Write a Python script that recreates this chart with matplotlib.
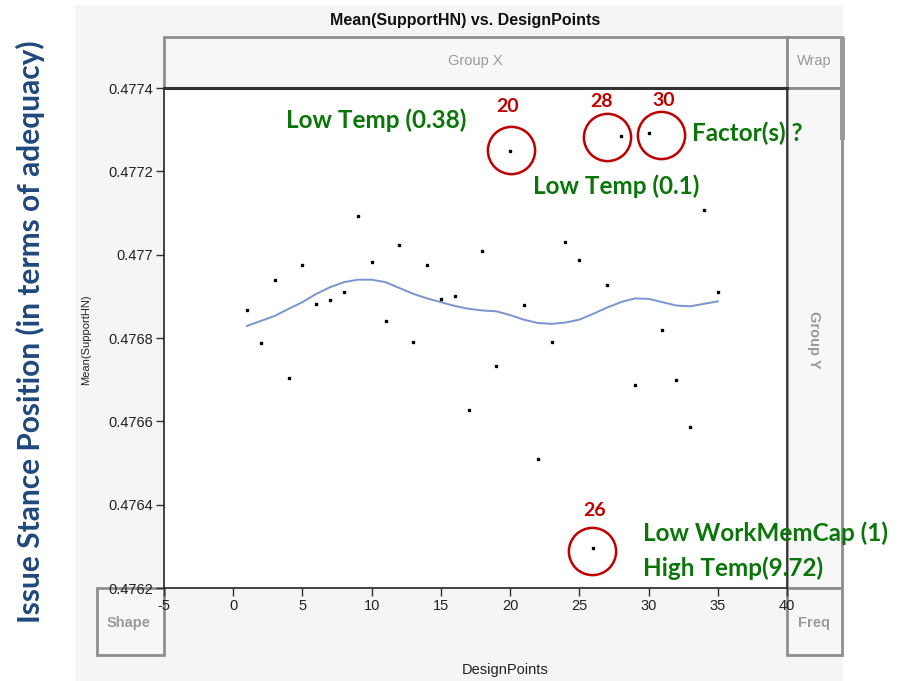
import matplotlib
matplotlib.use("Agg")
import matplotlib.pyplot as plt
from matplotlib.patches import Rectangle
from matplotlib.transforms import offset_copy

# ---------------- data ----------------
design_points = list(range(1, 36))
mean_support = [0.476867, 0.476788, 0.476939, 0.476704, 0.476975, 0.476882, 0.476891,
                0.476910, 0.477093, 0.476982, 0.476841, 0.477023, 0.476790, 0.476975,
                0.476894, 0.476901, 0.476627, 0.477009, 0.476733, 0.477249, 0.476879,
                0.476510, 0.476790, 0.477030, 0.476987, 0.476296, 0.476927, 0.477285,
                0.476687, 0.477292, 0.476819, 0.476700, 0.476586, 0.477107, 0.476910]
smooth_fit = [0.476829, 0.476841, 0.476853, 0.476870, 0.476886, 0.476906, 0.476922,
              0.476934, 0.476940, 0.476940, 0.476934, 0.476920, 0.476906, 0.476895,
              0.476886, 0.476877, 0.476870, 0.476866, 0.476864, 0.476855, 0.476844,
              0.476836, 0.476834, 0.476837, 0.476844, 0.476858, 0.476873, 0.476886,
              0.476895, 0.476894, 0.476886, 0.476878, 0.476876, 0.476882, 0.476888]
highlighted = [20, 28, 30, 26]
x_ticks = [-5, 0, 5, 10, 15, 20, 25, 30, 35, 40]
y_ticks = [0.4762, 0.4764, 0.4766, 0.4768, 0.4770, 0.4772, 0.4774]
y_tick_labels = ["0.4762", "0.4764", "0.4766", "0.4768", "0.477", "0.4772", "0.4774"]

W, H = 898, 681
fig = plt.figure(figsize=(W / 100, H / 100), dpi=100)
fig.patch.set_facecolor("white")

NARROW = ["Liberation Sans Narrow", "Liberation Sans", "DejaVu Sans"]
CAL = ["Lato", "DejaVu Sans"]


def fx(x):
    return x / W


def fy(y):
    return 1 - y / H


def prect(x0, y0, x1, y1, **kw):
    fig.patches.append(Rectangle((fx(x0), fy(y1)), (x1 - x0) / W, (y1 - y0) / H,
                                 transform=fig.transFigure, **kw))


# gray panel background
prect(75, 5, 843, 681, facecolor="#f5f5f5", edgecolor="none", zorder=0)
box = dict(facecolor="#f7f7f7", edgecolor="#8e8e8e", linewidth=2, zorder=1)
prect(164, 37, 787, 88, **box)
prect(787, 37, 842, 88, **box)
prect(787, 88, 842, 588, **box)
prect(97, 588, 164, 655, **box)
prect(787, 588, 842, 655, **box)
prect(840, 37, 845, 140, facecolor="#9a9a9a", edgecolor="none", zorder=1)

gray_txt = dict(color="#9a9a9a", fontsize=10.5, family=NARROW, ha="center", va="center")
fig.text(fx(475), fy(61), "Group X", **gray_txt)
fig.text(fx(814), fy(61), "Wrap", **gray_txt)
fig.text(fx(814), fy(340), "Group Y", rotation=-90, fontweight="bold", **gray_txt)
fig.text(fx(129), fy(623), "Shape", fontweight="bold", **gray_txt)
fig.text(fx(814), fy(623), "Freq", fontweight="bold", **gray_txt)

# titles and labels
fig.text(fx(465), fy(20), "Mean(SupportHN) vs. DesignPoints", ha="center", va="center",
         fontsize=11.5, fontweight="bold", family=NARROW, color="#111111")
fig.text(fx(505), fy(670), "DesignPoints", ha="center", va="center",
         fontsize=10.5, family=NARROW, color="#222222")
fig.text(fx(86), fy(340), "Mean(SupportHN)", ha="center", va="center", rotation=90,
         fontsize=8, family=NARROW, color="#222222")
fig.text(fx(30), fy(332), "Issue Stance Position (in terms of adequacy)", ha="center",
         va="center", rotation=90, fontsize=21.5, fontweight="bold", family=CAL,
         color="#1F497D")

# axes
ax = fig.add_axes([fx(164), fy(588), 623 / W, 500 / H], zorder=2)
ax.set_facecolor("white")
ax.set_xlim(-5, 40)
ax.set_ylim(0.4762, 0.4774)
ax.set_xticks(x_ticks)
ax.set_xticklabels([str(t) for t in x_ticks])
ax.set_yticks(y_ticks)
ax.set_yticklabels(y_tick_labels)
ax.tick_params(direction="out", length=6, width=1, color="#333333", labelsize=10.5,
               labelcolor="#222222", pad=2)
for lab in ax.get_xticklabels() + ax.get_yticklabels():
    lab.set_family(NARROW)
for s in ["left", "bottom", "right"]:
    ax.spines[s].set_color("#222222")
    ax.spines[s].set_linewidth(1.2)
ax.spines["top"].set_color("#333333")
ax.spines["top"].set_linewidth(2.2)

ax.plot(design_points, smooth_fit, color="#7B93D0", linewidth=1.4, zorder=3)
ax.plot(design_points, mean_support, linestyle="none", marker="s", markersize=1.7,
        color="black", zorder=4)

# highlight circles and numbers
circle_offsets = {20: (1, 1), 28: (-14, -1), 30: (12, -2), 26: (-1, -3)}
label_offsets = {20: (-3, 44), 28: (-19, 34), 30: (15, 33), 26: (1, 38)}
red = "#C00000"
for dp in highlighted:
    yv = mean_support[design_points.index(dp)]
    cdx, cdy = circle_offsets[dp]
    tr = offset_copy(ax.transData, fig=fig, x=cdx, y=cdy, units="dots")
    ax.plot([dp], [yv], transform=tr, marker="o", markersize=34, markerfacecolor="none",
            markeredgecolor=red, markeredgewidth=1.8, linestyle="none", clip_on=False,
            zorder=5)
    ldx, ldy = label_offsets[dp]
    ax.annotate(str(dp), (dp, yv), xytext=(ldx, ldy), textcoords="offset pixels",
                ha="center", va="center", color=red, fontsize=14, fontweight="bold",
                family=CAL, annotation_clip=False, zorder=6)

green = "#0A760A"
gtxt = dict(color=green, fontsize=17.5, fontweight="bold", family=CAL, va="center",
            ha="left", zorder=6)
fig.text(fx(286), fy(120), "Low Temp (0.38)", **gtxt)
fig.text(fx(692), fy(133), "Factor(s) ?", **gtxt)
fig.text(fx(533), fy(186), "Low Temp (0.1)", **gtxt)
fig.text(fx(643), fy(533), "Low WorkMemCap (1)", **gtxt)
fig.text(fx(643), fy(568), "High Temp(9.72)", **gtxt)

fig.savefig("out.png", dpi=100)
